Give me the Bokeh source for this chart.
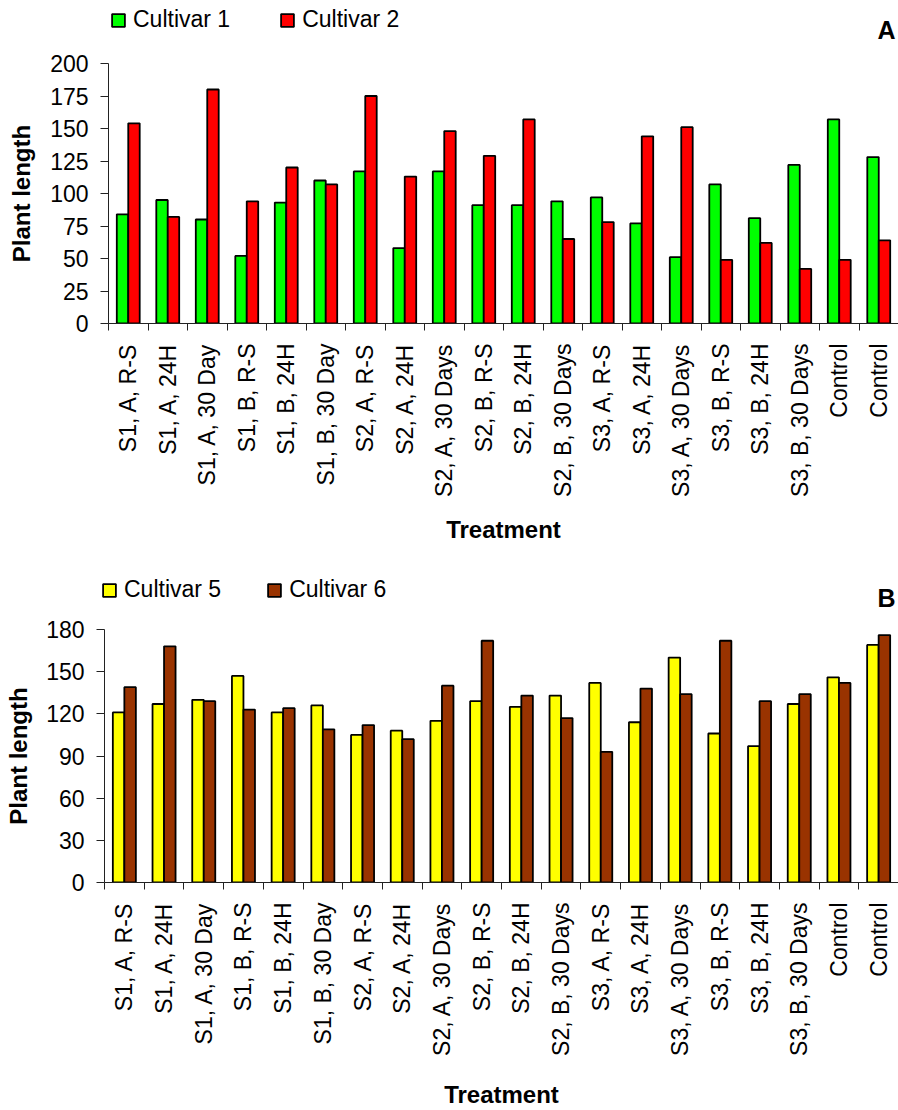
import math
from bokeh.plotting import figure
from bokeh.models import (Range1d, LinearAxis, FixedTicker, CustomJSTickFormatter,
                          ColumnDataSource, Label)
from bokeh.transform import dodge
from bokeh.embed import file_html
from bokeh.resources import INLINE

treatments = ["S1, A, R-S", "S1, A, 24H", "S1, A, 30 Day", "S1, B, R-S", "S1, B, 24H",
              "S1, B, 30 Day", "S2, A, R-S", "S2, A, 24H", "S2, A, 30 Days", "S2, B, R-S",
              "S2, B, 24H", "S2, B, 30 Days", "S3, A, R-S", "S3, A, 24H", "S3, A, 30 Days",
              "S3, B, R-S", "S3, B, 24H", "S3, B, 30 Days", "Control", "Control"]

cultivar1 = [84, 95, 80, 52, 93, 110, 117, 58, 117, 91, 91, 94, 97, 77, 51, 107, 81, 122, 157, 128]
cultivar2 = [154, 82, 180, 94, 120, 107, 175, 113, 148, 129, 157, 65, 78, 144, 151, 49, 62, 42, 49, 64]

cultivar5 = [121, 127, 130, 147, 121, 126, 105, 108, 115, 129, 125, 133, 142, 114, 160, 106, 97, 127, 146, 169]
cultivar6 = [139, 168, 129, 123, 124, 109, 112, 102, 140, 172, 133, 117, 93, 138, 134, 172, 129, 134, 142, 176]

ticks_a = [0, 25, 50, 75, 100, 125, 150, 175, 200]
ticks_b = [0, 30, 60, 90, 120, 150, 180]

FONT = "Liberation Sans"
W = 898
idx = list(range(len(treatments)))


def make_header(h, names, colors, letter, legend_xy, spacing, letter_xy):
    hp = figure(width=W, height=h, x_range=Range1d(0, W), y_range=Range1d(0, h),
                output_backend="svg", toolbar_location=None,
                x_axis_type=None, y_axis_type=None,
                min_border_left=0, min_border_right=0, min_border_top=0, min_border_bottom=0)
    hp.outline_line_color = None
    # legend proxies (no visible data)
    proxy = ColumnDataSource(dict(x=[float("nan")], t=[float("nan")]))
    for nm, col in zip(names, colors):
        hp.vbar(x="x", top="t", width=1, source=proxy, fill_color=col,
                line_color="black", line_width=1.8, legend_label=nm)
    lg = hp.legend[0]
    lg.orientation = "horizontal"
    lg.location = legend_xy
    lg.margin = 0
    lg.padding = 0
    lg.spacing = spacing
    lg.border_line_color = None
    lg.background_fill_alpha = 0
    lg.glyph_width = 16
    lg.glyph_height = 16
    lg.label_standoff = 7
    lg.label_text_font = FONT
    lg.label_text_font_size = "23px"
    lg.label_text_color = "black"
    hp.add_layout(Label(x=letter_xy[0], y=letter_xy[1], text=letter, text_font=FONT,
                        text_font_size="25px", text_font_style="bold", text_color="black",
                        text_align="center", text_baseline="middle"))
    return hp


def make_panel(s1, s2, colors, yticks, height, left, top, bottom,
               xstandoff, xlabstandoff, ylabstandoff):
    n = len(treatments)
    ymax = yticks[-1]
    p = figure(width=W, height=height, x_range=Range1d(-0.5, n - 0.5),
               y_range=Range1d(0, ymax), output_backend="svg", toolbar_location=None,
               x_axis_type=None, y_axis_type=None,
               min_border_left=left, min_border_right=0,
               min_border_top=top, min_border_bottom=bottom)
    p.outline_line_color = None

    src = ColumnDataSource(dict(x=idx, a=s1, b=s2))
    w = 0.29
    p.vbar(x=dodge("x", -w / 2, range=p.x_range), top="a", width=w, source=src,
           fill_color=colors[0], line_color="black", line_width=1.8)
    p.vbar(x=dodge("x", w / 2, range=p.x_range), top="b", width=w, source=src,
           fill_color=colors[1], line_color="black", line_width=1.8)

    yaxis = LinearAxis(ticker=FixedTicker(ticks=yticks))
    yaxis.axis_label = "Plant length"
    yaxis.axis_label_text_font = FONT
    yaxis.axis_label_text_font_size = "24px"
    yaxis.axis_label_text_font_style = "bold"
    yaxis.axis_label_text_color = "black"
    yaxis.axis_label_standoff = ylabstandoff
    yaxis.major_label_text_font = FONT
    yaxis.major_label_text_font_size = "23px"
    yaxis.major_label_text_color = "black"
    yaxis.major_label_standoff = 12
    yaxis.major_tick_out = 8
    yaxis.major_tick_in = 0
    yaxis.minor_tick_line_color = None
    yaxis.axis_line_color = "#222222"
    yaxis.major_tick_line_color = "#222222"
    p.add_layout(yaxis, "left")

    xaxis = LinearAxis(
        ticker=FixedTicker(ticks=idx, minor_ticks=[i - 0.5 for i in range(n + 1)]),
        formatter=CustomJSTickFormatter(args=dict(labels=treatments),
                                        code="return labels[Math.round(tick)]"))
    xaxis.axis_label = "Treatment"
    xaxis.axis_label_text_font = FONT
    xaxis.axis_label_text_font_size = "24px"
    xaxis.axis_label_text_font_style = "bold"
    xaxis.axis_label_text_color = "black"
    xaxis.axis_label_standoff = xlabstandoff
    xaxis.major_label_orientation = math.pi / 2
    xaxis.major_label_text_font = FONT
    xaxis.major_label_text_font_size = "23px"
    xaxis.major_label_text_color = "black"
    xaxis.major_label_standoff = xstandoff
    xaxis.major_tick_line_color = None
    xaxis.major_tick_out = 7
    xaxis.major_tick_in = 0
    xaxis.minor_tick_out = 7
    xaxis.minor_tick_in = 0
    xaxis.minor_tick_line_color = "#222222"
    xaxis.axis_line_color = "#222222"
    p.add_layout(xaxis, "below")
    return p


h1 = make_header(45, ["Cultivar 1", "Cultivar 2"], ["#00FF00", "#FF0000"], "A",
                 (110, 12), 49, (886, 16))
p1 = make_panel(cultivar1, cultivar2, ["#00FF00", "#FF0000"], ticks_a,
                508, 108, 18, 230, 13, 16, 12)
h2 = make_header(60, ["Cultivar 5", "Cultivar 6"], ["#FFFF00", "#993300"], "B",
                 (101, 10), 45, (886, 16))
p2 = make_panel(cultivar5, cultivar6, ["#FFFF00", "#993300"], ticks_b,
                497, 104, 16, 223, 13, 22, 11)

open("out.html", "w").write(file_html([h1, p1, h2, p2], INLINE))
